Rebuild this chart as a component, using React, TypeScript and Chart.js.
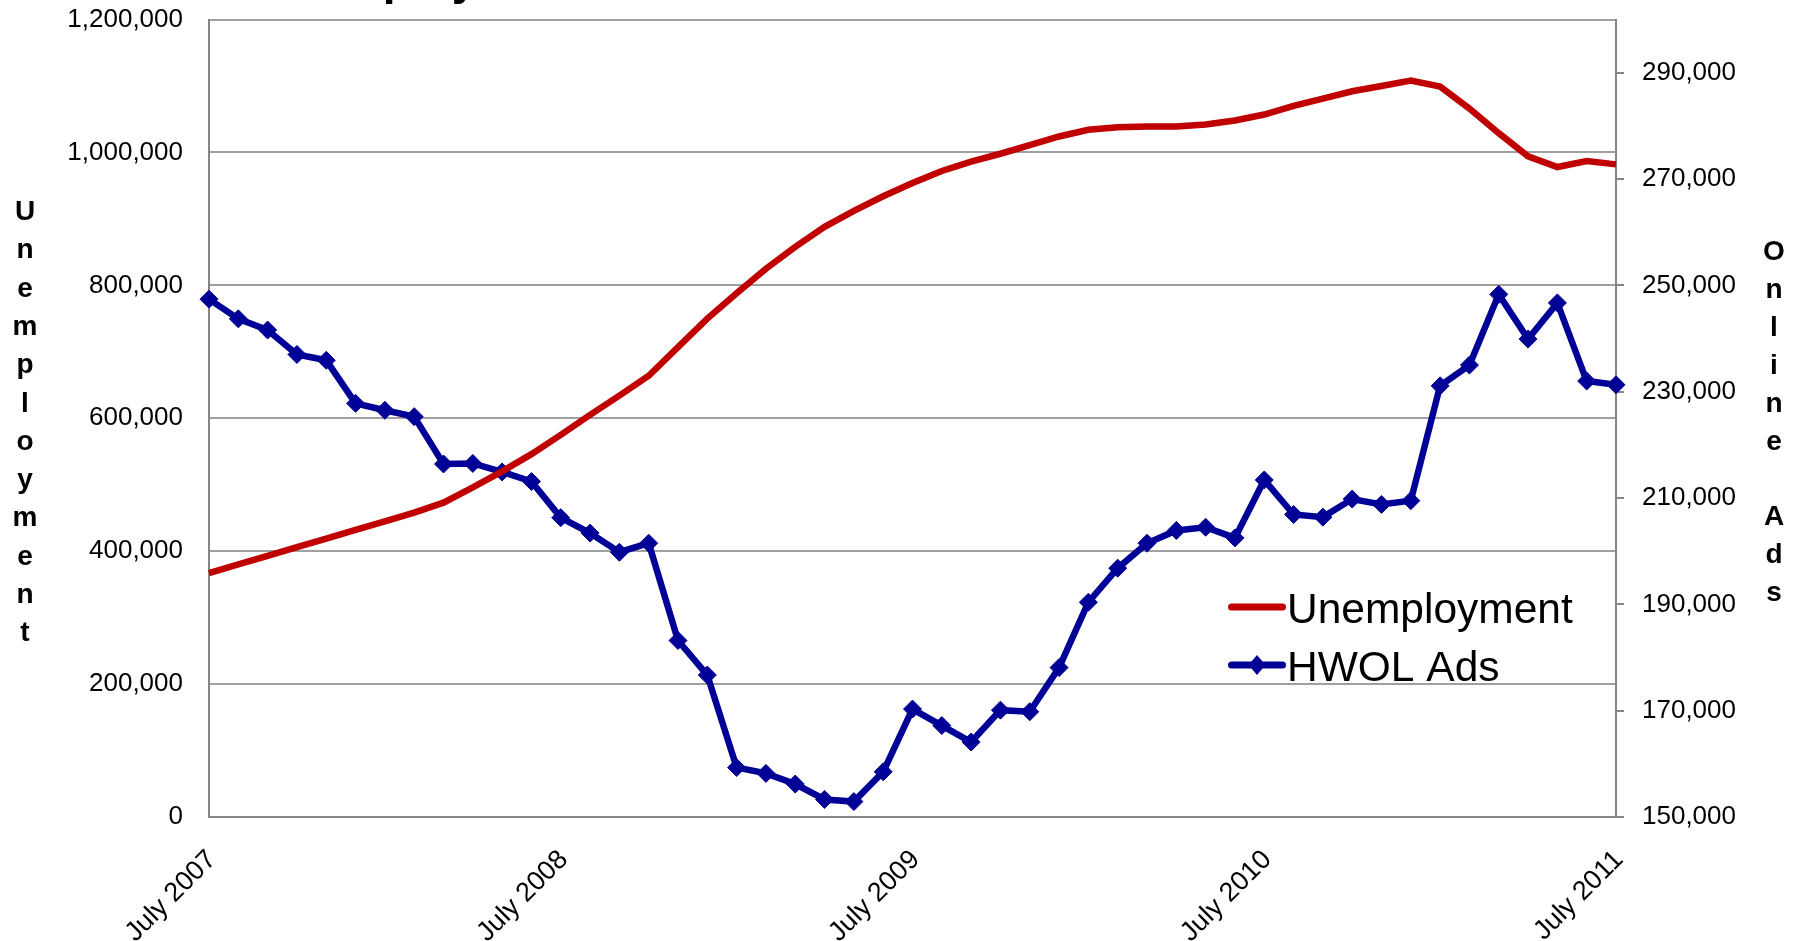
import React, { useEffect, useRef } from "react";
import { Chart, registerables } from "chart.js";

Chart.register(...registerables);

const months = [
  "Jul 2007", "Aug 2007", "Sep 2007", "Oct 2007", "Nov 2007", "Dec 2007",
  "Jan 2008", "Feb 2008", "Mar 2008", "Apr 2008", "May 2008", "Jun 2008",
  "Jul 2008", "Aug 2008", "Sep 2008", "Oct 2008", "Nov 2008", "Dec 2008",
  "Jan 2009", "Feb 2009", "Mar 2009", "Apr 2009", "May 2009", "Jun 2009",
  "Jul 2009", "Aug 2009", "Sep 2009", "Oct 2009", "Nov 2009", "Dec 2009",
  "Jan 2010", "Feb 2010", "Mar 2010", "Apr 2010", "May 2010", "Jun 2010",
  "Jul 2010", "Aug 2010", "Sep 2010", "Oct 2010", "Nov 2010", "Dec 2010",
  "Jan 2011", "Feb 2011", "Mar 2011", "Apr 2011", "May 2011", "Jun 2011",
  "Jul 2011",
];

const xTickMonths = ["Jul 2007", "Jul 2008", "Jul 2009", "Jul 2010", "Jul 2011"];
const xTickLabels = ["July 2007", "July 2008", "July 2009", "July 2010", "July 2011"];

const unemployment = [
  367000, 380000, 393000, 406000, 419000, 432000, 445000, 458000, 473000, 496000,
  520000, 546000, 575000, 605000, 634000, 664000, 707000, 750000, 788000, 825000,
  858000, 888000, 912000, 934000, 954000, 972000, 986000, 998000, 1011000, 1024000,
  1034000, 1038000, 1039000, 1039000, 1042000, 1048000, 1057000, 1070000, 1081000, 1092000,
  1100000, 1108000, 1099000, 1066000, 1029000, 994000, 978000, 987000, 982000,
];

const hwolAds = [
  247400, 243700, 241600, 237000, 235900, 227800, 226500, 225300, 216400, 216500,
  214900, 213100, 206300, 203400, 199800, 201500, 183200, 176700, 159300, 158200,
  156200, 153300, 152900, 158500, 170300, 167200, 164100, 170100, 169800, 178100,
  190400, 196800, 201500, 203900, 204500, 202500, 213400, 206900, 206400, 209800,
  208800, 209500, 231100, 235000, 248300, 239900, 246700, 232000, 231300,
];

const leftTicks = [0, 200000, 400000, 600000, 800000, 1000000, 1200000];
const rightTicks = [150000, 170000, 190000, 210000, 230000, 250000, 270000, 290000];

const chartTitle = "Unemployment vs. Online Ads";
const leftTitle = "Unemployment";
const rightTitle = "Online Ads";
const seriesNames = ["Unemployment", "HWOL Ads"];

const RED = "#C00000";
const BLUE = "#000096";
const FONT = "'Liberation Sans', Arial, Helvetica, sans-serif";

const overlayPlugin = {
  id: "overlay",
  afterDraw(chart: any) {
    const ctx = chart.ctx as CanvasRenderingContext2D;
    ctx.save();
    // clipped title (only descenders visible)
    ctx.fillStyle = "#000";
    ctx.font = `bold 46px ${FONT}`;
    ctx.textAlign = "left";
    ctx.textBaseline = "alphabetic";
    ctx.fillText(chartTitle, 255, -6);

    // vertical stacked axis titles
    ctx.font = `bold 28px ${FONT}`;
    ctx.textAlign = "center";
    Array.from(leftTitle).forEach((ch, i) => {
      ctx.fillText(ch, 25, 220 + i * 38.3);
    });
    Array.from(rightTitle).forEach((ch, i) => {
      ctx.fillText(ch, 1774, 260 + i * 37.9);
    });

    // legend
    const x0 = 1231.5;
    const x1 = 1282.5;
    const rows = [607, 665];
    const colors = [RED, BLUE];
    rows.forEach((y, i) => {
      ctx.strokeStyle = colors[i];
      ctx.lineWidth = 7;
      ctx.lineCap = "round";
      ctx.beginPath();
      ctx.moveTo(x0, y);
      ctx.lineTo(x1, y);
      ctx.stroke();
      if (i === 1) {
        const cx = (x0 + x1) / 2;
        ctx.fillStyle = BLUE;
        ctx.beginPath();
        ctx.moveTo(cx, y - 10);
        ctx.lineTo(cx + 8.5, y);
        ctx.lineTo(cx, y + 10);
        ctx.lineTo(cx - 8.5, y);
        ctx.closePath();
        ctx.fill();
      }
    });
    ctx.fillStyle = "#000";
    ctx.font = `42.5px ${FONT}`;
    ctx.textAlign = "left";
    ctx.textBaseline = "alphabetic";
    ctx.fillText(seriesNames[0], 1287, 623);
    ctx.fillText(seriesNames[1], 1287, 681);
    ctx.restore();
  },
};

export default function App() {
  const canvasRef = useRef<HTMLCanvasElement | null>(null);

  useEffect(() => {
    const canvas = canvasRef.current;
    if (!canvas) return;
    const fmt = (v: any) => Number(v).toLocaleString("en-US");
    const chart = new Chart(canvas, {
      type: "line",
      data: {
        labels: months,
        datasets: [
          {
            label: seriesNames[0],
            data: unemployment,
            yAxisID: "y",
            borderColor: RED,
            backgroundColor: RED,
            borderWidth: 6.5,
            pointRadius: 0,
            tension: 0,
            clip: false as any,
          },
          {
            label: seriesNames[1],
            data: hwolAds,
            yAxisID: "y1",
            borderColor: BLUE,
            backgroundColor: BLUE,
            borderWidth: 6.5,
            pointStyle: "rectRot",
            pointRadius: 9,
            pointBorderWidth: 1,
            pointBackgroundColor: BLUE,
            pointBorderColor: BLUE,
            tension: 0,
            clip: false as any,
          },
        ],
      },
      options: {
        animation: false,
        responsive: false,
        maintainAspectRatio: false,
        layout: { padding: { top: 19.5, left: 0, right: 0, bottom: 0 } },
        plugins: {
          legend: { display: false },
          tooltip: { enabled: false },
          title: { display: false },
        },
        scales: {
          x: {
            type: "category",
            offset: false,
            grid: { display: false, drawTicks: false },
            border: { display: true, color: "#868686", width: 2 },
            ticks: {
              autoSkip: false,
              maxRotation: 45,
              minRotation: 45,
              padding: 27,
              labelOffset: 3,
              color: "#000",
              font: { family: FONT, size: 27 },
              callback: (_v: any, index: number) => {
                const k = xTickMonths.indexOf(months[index]);
                return k >= 0 ? xTickLabels[k] : "";
              },
            },
            afterFit: (s: any) => {
              s.height = 124;
              s.paddingTop = 0;
              s.paddingBottom = 0;
            },
          },
          y: {
            position: "left",
            min: 0,
            max: 1200000,
            afterBuildTicks: (axis: any) => {
              axis.ticks = leftTicks.map((v) => ({ value: v }));
            },
            grid: { color: "#a0a0a0", lineWidth: 2, drawTicks: false },
            border: { display: true, color: "#868686", width: 2 },
            ticks: {
              padding: 26,
              color: "#000",
              font: { family: FONT, size: 26 },
              callback: (v: any) => fmt(v),
            },
            afterFit: (s: any) => {
              s.width = 209;
              s.paddingTop = 0;
              s.paddingBottom = 0;
            },
          },
          y1: {
            position: "right",
            min: 150000,
            max: 300000,
            afterBuildTicks: (axis: any) => {
              axis.ticks = rightTicks.map((v) => ({ value: v }));
            },
            grid: {
              drawOnChartArea: false,
              drawTicks: true,
              tickLength: 8,
              color: "#868686",
              lineWidth: 2,
            },
            border: { display: true, color: "#868686", width: 2 },
            ticks: {
              padding: 18,
              color: "#000",
              font: { family: FONT, size: 26 },
              callback: (v: any) => fmt(v),
            },
            afterFit: (s: any) => {
              s.width = 187;
              s.paddingTop = 0;
              s.paddingBottom = 0;
            },
          },
        },
      },
      plugins: [overlayPlugin],
    });
    return () => chart.destroy();
  }, []);

  return (
    <div style={{ position: "absolute", left: 0, top: 0, width: 1803, height: 941, background: "#fff" }}>
      <canvas ref={canvasRef} width={1803} height={941} style={{ display: "block" }} />
    </div>
  );
}
